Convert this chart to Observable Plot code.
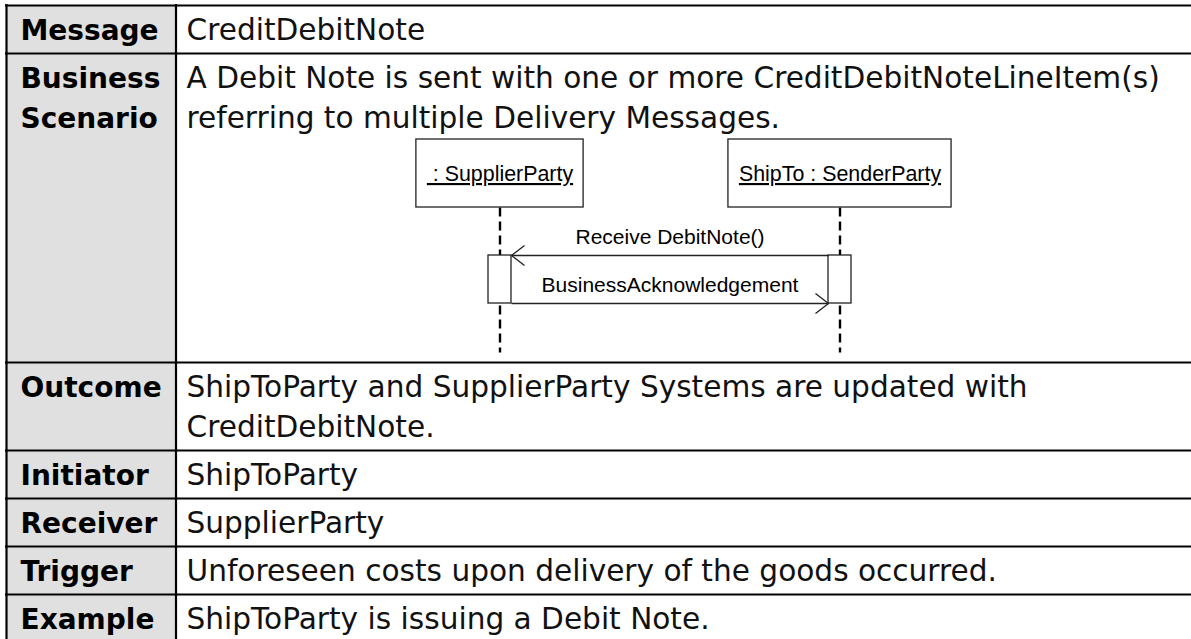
<!DOCTYPE html>
<html><head><meta charset="utf-8">
<script src="https://cdn.jsdelivr.net/npm/d3@7"></script>
<script src="https://cdn.jsdelivr.net/npm/@observablehq/plot@0.6"></script>
<style>body{margin:0;background:#fff}</style>
</head><body><div id="chart"></div>
<script>
// ---- data ----
const labels = ["Message", "Business\nScenario", "Outcome", "Initiator", "Receiver", "Trigger", "Example"];
const values = [
  "CreditDebitNote",
  "A Debit Note is sent with one or more CreditDebitNoteLineItem(s)\nreferring to multiple Delivery Messages.",
  "ShipToParty and SupplierParty Systems are updated with\nCreditDebitNote.",
  "ShipToParty",
  "SupplierParty",
  "Unforeseen costs upon delivery of the goods occurred.",
  "ShipToParty is issuing a Debit Note."
];
const diagramRow = 1;
const participants = [" : SupplierParty", "ShipTo : SenderParty"];
const messages = [
  {label: "Receive DebitNote()", from: 1, to: 0, dashed: false},
  {label: "BusinessAcknowledgement", from: 0, to: 1, dashed: true}
];

// ---- layout ----
const W = 1191, H = 639;
const tableLeft = 6, tableTop = 5, colDiv = 175.5;
const rowBase = 48, lineStep = 40, diagramExtra = 221;
const fontMain = "'DejaVu Sans', Verdana, sans-serif";
const fontDiag = "'Liberation Sans', Arial, sans-serif";
const sizeLabel = 28, sizeMain = 29.6, sizeDiag = 21, sizeBox = 21.4;

const rows = [];
let rowTop = tableTop;
labels.forEach((lab, i) => {
  const ll = lab.split("\n"), vl = values[i].split("\n");
  const n = Math.max(ll.length, vl.length);
  const h = rowBase + lineStep * (n - 1) + (i === diagramRow ? diagramExtra : 0);
  rows.push({i, top: rowTop, bottom: rowTop + h, ll, vl});
  rowTop += h;
});
const labelTexts = [], valueTexts = [];
rows.forEach(r => {
  r.ll.forEach((t, k) => labelTexts.push({t, x: 20, y: r.top + 34 + k * lineStep}));
  r.vl.forEach((t, k) => valueTexts.push({t, x: 186, y: r.top + 34 + k * lineStep}));
});
const hLines = [tableTop, ...rows.map(r => r.bottom)];

// diagram geometry
const d0 = rows[diagramRow].top;
const lifeX = [499.5, 839.5];
const ctx = document.createElement("canvas").getContext("2d");
ctx.font = `${sizeBox}px ${fontDiag}`;
const boxTop = d0 + 86, boxH = 68;
const boxes = participants.map((p, i) => {
  const w = ctx.measureText(p).width + 21;
  return {p, x1: lifeX[i] - w / 2, x2: lifeX[i] + w / 2, y1: boxTop, y2: boxTop + boxH, cx: lifeX[i], ty: boxTop + boxH / 2 + 7.5};
});
const actTop = d0 + 202, actBot = d0 + 250, actW = 23;
const lifeBottom = d0 + 299;
const lifelines = lifeX.map(x => ({x, y1: boxTop + boxH, y2: lifeBottom}));
const acts = lifeX.map(x => ({x1: x - actW / 2, x2: x + actW / 2, y1: actTop, y2: actBot}));
const msgY = [actTop, actBot];
const msgs = messages.map((m, k) => {
  const dir = lifeX[m.to] > lifeX[m.from] ? 1 : -1;
  const xs = lifeX[m.from] + dir * actW / 2;
  const xe = lifeX[m.to] - dir * actW / 2;
  return {...m, xs, xe, y: msgY[k], dir, lx: (lifeX[0] + lifeX[1]) / 2, ly: msgY[k] - 12};
});
const heads = msgs.flatMap(m => [
  {x1: m.xe, y1: m.y, x2: m.xe - m.dir * 13, y2: m.y - 10},
  {x1: m.xe, y1: m.y, x2: m.xe - m.dir * 13, y2: m.y + 10}
]);

const plot = Plot.plot({
  width: W, height: H, margin: 0,
  x: {type: "identity", axis: null},
  y: {type: "identity", axis: null},
  style: {background: "white", overflow: "hidden"},
  marks: [
    Plot.rect([{}], {x1: tableLeft, x2: colDiv, y1: tableTop, y2: H + 10, fill: "#e0e0e0"}),
    Plot.ruleY(hLines, {y: d => d, x1: tableLeft - 1, x2: W + 10, stroke: "#000", strokeWidth: 2.2}),
    Plot.ruleX([tableLeft, colDiv], {x: d => d, y1: tableTop - 1, y2: H + 10, stroke: "#000", strokeWidth: 2.2}),
    Plot.text(labelTexts, {x: "x", y: "y", text: "t", textAnchor: "start", lineAnchor: "bottom", fontSize: sizeLabel, fontWeight: "bold", fontFamily: fontMain, fill: "#000"}),
    Plot.text(valueTexts, {x: "x", y: "y", text: "t", textAnchor: "start", lineAnchor: "bottom", fontSize: sizeMain, fontFamily: fontMain, fill: "#111"}),
    // diagram
    Plot.link(lifelines, {x1: "x", x2: "x", y1: "y1", y2: "y2", stroke: "#000", strokeWidth: 2.4, strokeDasharray: "9,5"}),
    Plot.rect(boxes, {x1: "x1", x2: "x2", y1: "y1", y2: "y2", fill: "white", stroke: "#222", strokeWidth: 1.3}),
    Plot.text(boxes, {x: "cx", y: "ty", text: "p", lineAnchor: "bottom", fontSize: sizeBox, fontFamily: fontDiag, fill: "#000"}),
    Plot.rect(acts, {x1: "x1", x2: "x2", y1: "y1", y2: "y2", fill: "white", stroke: "#222", strokeWidth: 1.3}),
    Plot.link(msgs, {x1: "xs", x2: "xe", y1: "y", y2: "y", stroke: "#222", strokeWidth: 1.5, strokeDasharray: d => d.dashed ? "8,4" : null}),
    Plot.link(heads, {x1: "x1", x2: "x2", y1: "y1", y2: "y2", stroke: "#222", strokeWidth: 1.3}),
    Plot.text(msgs, {x: "lx", y: "ly", text: "label", lineAnchor: "bottom", fontSize: sizeDiag, fontFamily: fontDiag, fill: "#000"})
  ]
});
plot.querySelectorAll("text").forEach(t => {
  if (participants.includes(t.textContent)) {
    t.style.textDecoration = "underline";
    t.style.whiteSpace = "pre";
  }
});
document.getElementById("chart").appendChild(plot);
</script>
</body></html>
